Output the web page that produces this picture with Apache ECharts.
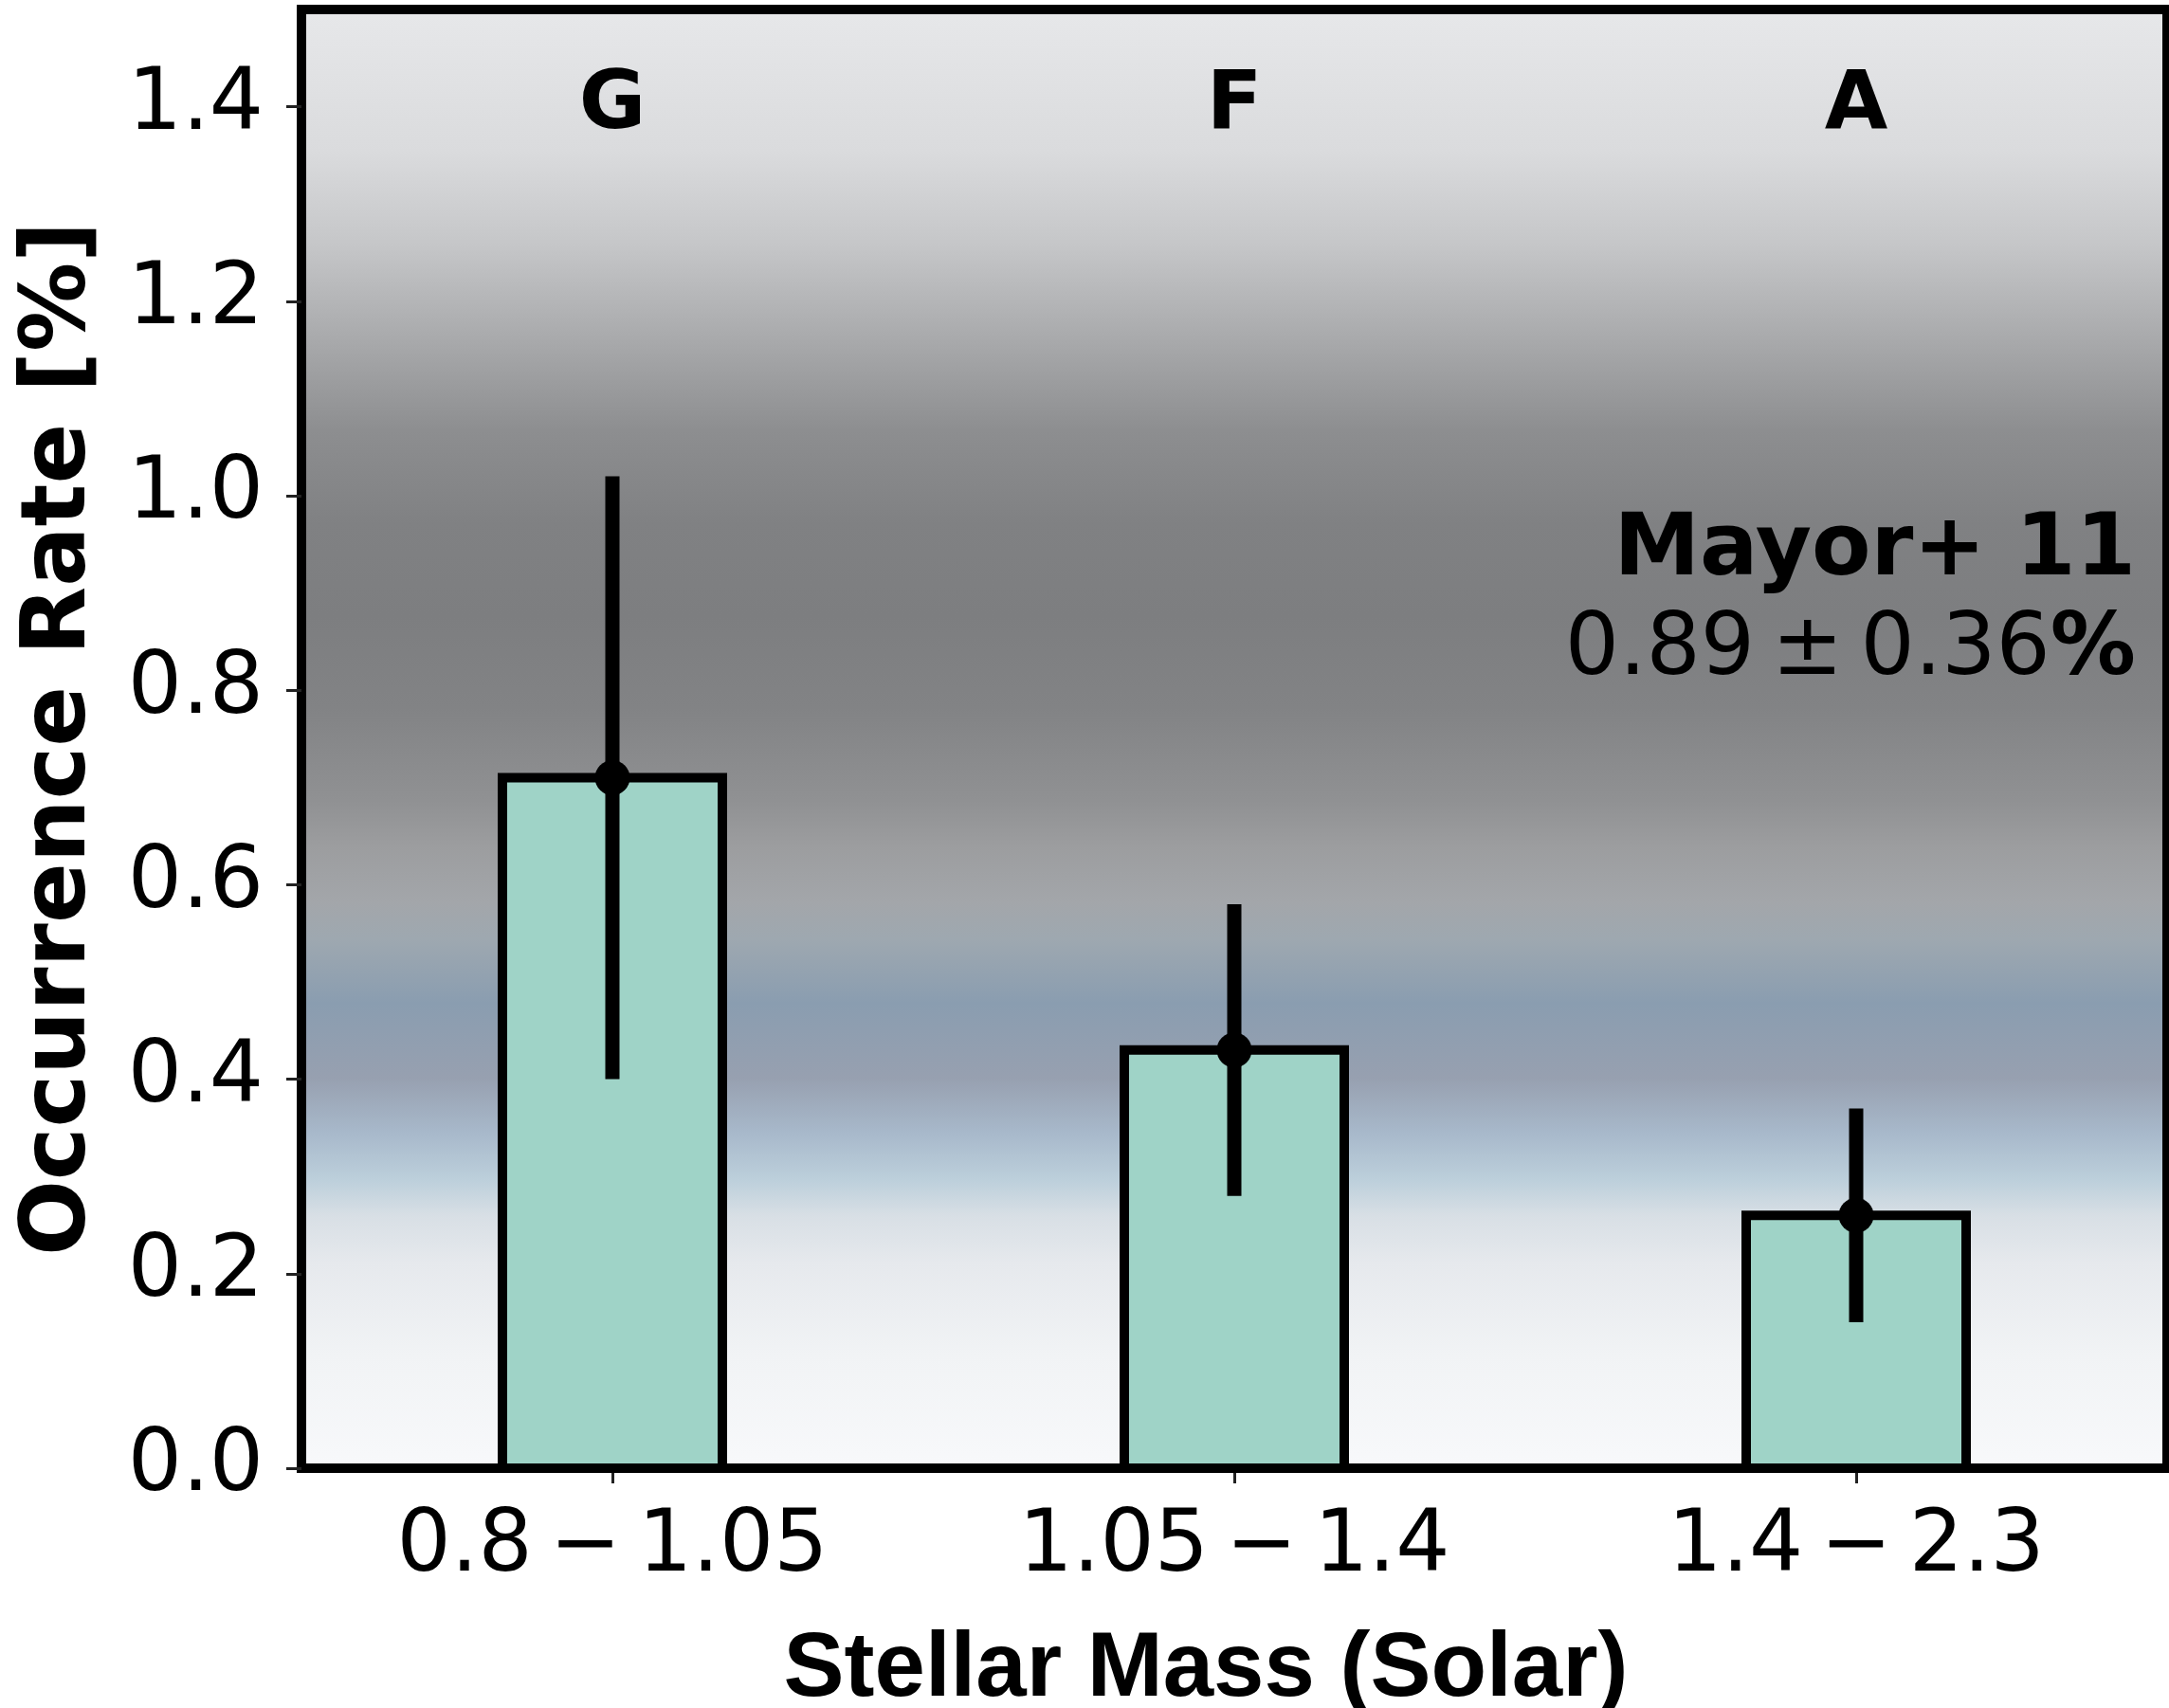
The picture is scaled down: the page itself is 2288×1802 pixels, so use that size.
<!DOCTYPE html>
<html>
<head>
<meta charset="utf-8">
<script src="https://cdn.jsdelivr.net/npm/echarts@6/dist/echarts.min.js"></script>
<style>
html,body{margin:0;padding:0;background:#fff;}
#chart{width:2288px;height:1802px;}
</style>
</head>
<body>
<div id="chart"></div>
<script>
// ---- data ----
const categories = ['0.8\u2009−\u20091.05', '1.05\u2009−\u20091.4', '1.4\u2009−\u20092.3'];
const spectralTypes = ['G', 'F', 'A'];
const rates = [0.71, 0.43, 0.26];
const errLow = [0.40, 0.28, 0.15];
const errHigh = [1.02, 0.58, 0.37];
const refName = 'Mayor+ 11';
const refValue = '0.89\u2009±\u20090.36';
const yAxisTitle = 'Occurrence Rate [%]';
const xAxisTitle = 'Stellar Mass (Solar)';

// ---- layout constants ----
const LABEL_Y = 1.40;
const BAR_W = 232;
const F = 'DejaVu Sans';

const chart = echarts.init(document.getElementById('chart'), null, {renderer: 'canvas'});

const bgGradient = new echarts.graphic.LinearGradient(0, 0, 0, 1, [
  {offset: 0.0, color: '#e7e8ea'},
  {offset: 0.10, color: '#dadbdd'},
  {offset: 0.164, color: '#c5c6c8'},
  {offset: 0.227, color: '#a9aaac'},
  {offset: 0.29, color: '#8d8e90'},
  {offset: 0.353, color: '#808183'},
  {offset: 0.416, color: '#7d7e80'},
  {offset: 0.479, color: '#828385'},
  {offset: 0.542, color: '#909193'},
  {offset: 0.573, color: '#9c9d9f'},
  {offset: 0.611, color: '#a3a6aa'},
  {offset: 0.636, color: '#9ea8b0'},
  {offset: 0.68, color: '#8a9db0'},
  {offset: 0.731, color: '#97a0b0'},
  {offset: 0.769, color: '#a8b9cb'},
  {offset: 0.80, color: '#bccfdb'},
  {offset: 0.825, color: '#d8dfe5'},
  {offset: 0.857, color: '#e6e9ed'},
  {offset: 0.92, color: '#f1f3f5'},
  {offset: 1.0, color: '#f8f9fb'}
]);

const option = {
  animation: false,
  backgroundColor: '#ffffff',
  grid: {
    left: 318, right: 2, top: 10, bottom: 253,
    outerBoundsMode: 'none',
    containLabel: false,
    show: true,
    backgroundColor: bgGradient,
    borderColor: '#000',
    borderWidth: 10
  },
  xAxis: {
    type: 'category',
    data: categories,
    axisLine: {show: true, lineStyle: {color: '#000', width: 10}},
    axisTick: {show: true, alignWithLabel: true, length: 16, lineStyle: {color: '#222', width: 3}},
    axisLabel: {fontFamily: F, fontSize: 90, color: '#000', margin: 40},
    name: xAxisTitle,
    nameLocation: 'middle',
    nameGap: 166,
    nameTextStyle: {fontFamily: 'Liberation Sans', fontWeight: 'bold', fontSize: 96, color: '#000', padding: [0, 60, 0, 0]}
  },
  yAxis: {
    type: 'value',
    min: 0, max: 1.5, interval: 0.2,
    splitLine: {show: false},
    axisLine: {show: true, lineStyle: {color: '#000', width: 10}},
    axisTick: {show: true, length: 16, lineStyle: {color: '#222', width: 3}},
    axisLabel: {fontFamily: F, fontSize: 90, color: '#000', margin: 40, showMaxLabel: false,
      formatter: v => v.toFixed(1)},
    name: yAxisTitle,
    nameLocation: 'middle',
    nameRotate: 90,
    nameGap: 206,
    nameTextStyle: {fontFamily: F, fontWeight: 'bold', fontSize: 94, color: '#000'}
  },
  series: [
    {
      type: 'custom',
      name: 'bars',
      data: rates.map((r, i) => [i, r]),
      renderItem: function (params, api) {
        const top = api.coord([api.value(0), api.value(1)]);
        const base = api.coord([api.value(0), 0]);
        return {
          type: 'rect',
          shape: {x: top[0] - BAR_W / 2, y: top[1], width: BAR_W, height: base[1] - top[1]},
          style: {fill: '#9fd3c7', stroke: '#000', lineWidth: 10}
        };
      },
      z: 2
    },
    {
      type: 'custom',
      name: 'errors',
      data: categories.map((c, i) => [i, errLow[i], errHigh[i]]),
      renderItem: function (params, api) {
        const p1 = api.coord([api.value(0), api.value(1)]);
        const p2 = api.coord([api.value(0), api.value(2)]);
        return {
          type: 'line',
          shape: {x1: p1[0], y1: p1[1], x2: p2[0], y2: p2[1]},
          style: {stroke: '#000', lineWidth: 15, lineCap: 'butt'}
        };
      },
      z: 3
    },
    {
      type: 'scatter',
      data: rates.map((r, i) => [i, r]),
      symbol: 'circle',
      symbolSize: 37,
      itemStyle: {color: '#000', opacity: 1},
      z: 4
    },
    {
      type: 'scatter',
      data: spectralTypes.map((s, i) => [i, LABEL_Y, s]),
      symbolSize: 1,
      itemStyle: {opacity: 0},
      label: {
        show: true,
        position: 'inside',
        formatter: p => p.value[2],
        fontFamily: F, fontWeight: 'bold', fontSize: 86, color: '#000', opacity: 1
      },
      z: 5
    }
  ],
  graphic: [
    {
      type: 'text',
      right: 2288 - 2253,
      top: 537,
      style: {
        text: refName,
        font: 'bold 91px "DejaVu Sans"',
        fill: '#000',
        textAlign: 'right'
      },
      z: 10
    },
    {
      type: 'text',
      right: 2288 - 2253,
      top: 643,
      style: {
        text: '{n|' + refValue + '}{p|%}',
        rich: {
          n: {fontFamily: F, fontSize: 90, fill: '#000'},
          p: {fontFamily: F, fontSize: 90, fontWeight: 'bold', fill: '#000'}
        },
        fill: '#000'
      },
      z: 10
    }
  ]
};
chart.setOption(option);
</script>
</body>
</html>
